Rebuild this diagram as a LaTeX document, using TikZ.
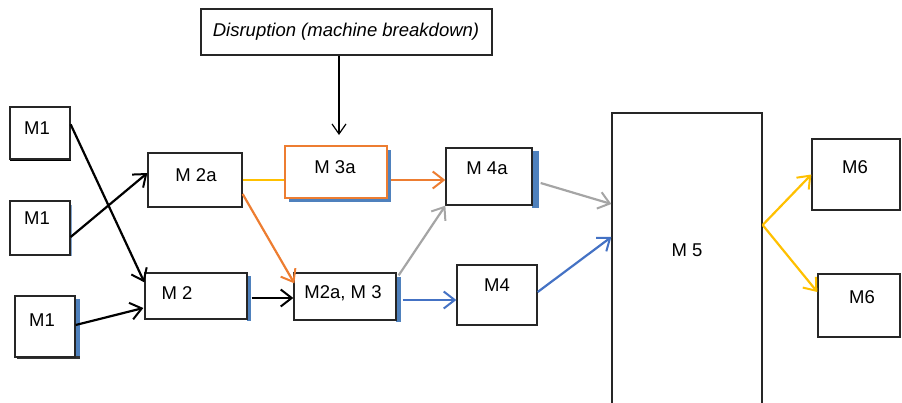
\documentclass[tikz,border=0pt]{standalone}
\usepackage{fontspec}
\setmainfont{Liberation Sans}
\usetikzlibrary{arrows.meta,calc}
\definecolor{cblue}{RGB}{68,114,196}
\definecolor{cshadow}{RGB}{79,129,189}
\definecolor{corange}{RGB}{237,125,49}
\definecolor{cyellow}{RGB}{255,192,0}
\definecolor{cgray}{RGB}{165,165,165}
\tikzset{
  box/.style={draw=black!85, line width=1.3pt, fill=white, inner sep=0pt, rectangle},
  lbl/.style={font=\fontsize{18.5}{20}\selectfont, inner sep=0pt, anchor=center},
  conn/.style={line width=2.2pt, -{Straight Barb[length=11pt,width=17pt,line width=2pt]}},
  shd/.style={fill=cshadow, draw=none},
}
\begin{document}
\begin{tikzpicture}[x=1pt,y=-1pt]
\useasboundingbox (0,0) rectangle (902,402);
% shadows (drawn first)
\fill[black] (10,157) rectangle (71,161);
\fill[cshadow!70] (70,205) rectangle (72,256);
\fill[shd] (75,299) rectangle (80,358);
\fill[black!80] (17,356) rectangle (80,359);
\fill[shd] (247,276) rectangle (251,321);
\fill[shd] (289,150) rectangle (391,202);
\fill[shd] (532,151) rectangle (539,208);
\fill[shd] (396,277) rectangle (401,322);
% boxes
\node[box, minimum width=60pt, minimum height=52pt] (m1a) at (40,133) {};
\node[box, minimum width=60pt, minimum height=54pt] (m1b) at (40,228) {};
\node[box, minimum width=60pt, minimum height=61pt] (m1c) at (45,326.5) {};
\node[box, minimum width=94pt, minimum height=54pt] (m2a) at (195,180) {};
\node[box, minimum width=102pt, minimum height=46pt] (m2) at (196,296) {};
\node[box, minimum width=291pt, minimum height=46pt] (dis) at (346.5,32) {};
\node[box, draw=corange, minimum width=102pt, minimum height=52pt] (m3a) at (336,172) {};
\node[box, minimum width=86pt, minimum height=57pt] (m4a) at (489,176.5) {};
\node[box, minimum width=102pt, minimum height=47pt] (m23) at (345,296.5) {};
\node[box, minimum width=80pt, minimum height=60pt] (m4) at (497,295) {};
\node[box, minimum width=150pt, minimum height=310pt] (m5) at (687,268) {};
\node[box, minimum width=88pt, minimum height=71pt] (m6a) at (856,174.5) {};
\node[box, minimum width=82pt, minimum height=63pt] (m6b) at (859,305.5) {};
% labels
\node[lbl] (m1a-t) at (37,128) {M1};
\node[lbl] (m1b-t) at (37,218) {M1};
\node[lbl] (m1c-t) at (42,320) {M1};
\node[lbl] (m2a-t) at (196,175) {M 2a};
\node[lbl] (m2-t) at (177,293) {M 2};
\node[lbl] (dis-t) at (346,32) {\itshape Disruption (machine breakdown)};
\node[lbl] (m3a-t) at (335,167) {M 3a};
\node[lbl] (m4a-t) at (487,168) {M 4a};
\node[lbl] (m23-t) at (343,293) {M2a, M 3};
\node[lbl] (m4-t) at (497,285) {M4};
\node[lbl] (m5-t) at (687,250) {M 5};
\node[lbl] (m6a-t) at (855,167) {M6};
\node[lbl] (m6b-t) at (862,297) {M6};
% connectors
\coordinate (hit) at (339,135);
\draw[line width=1.3pt, -{Straight Barb[length=10pt,width=14pt,line width=1.2pt]}] (dis.south -| hit) -- (hit);
\draw[conn] ($(m1a.north east)+(0,18)$) -- ($(m2.north west)+(0,10)$);
\draw[conn] ($(m1b.east)+(0,9)$) -- ($(m2a.west)+(0,-7)$);
\draw[conn] ($(m1c.east)+(0,-1.5)$) -- ($(m2.west)+(-1,12)$);
\draw[conn] ($(m2.east)+(4,2)$) -- ($(m23.west)+(0,1.5)$);
\draw[line width=2.2pt, cyellow] (m2a.east) -- (m3a.west |- m2a.east);
\draw[conn, corange] ($(m2a.east)+(0,14)$) -- ($(m23.north west)+(1,11)$);
\draw[conn, corange] ($(m3a.east)+(3,8)$) -- (m4a.west |- 0,180);
\draw[conn, cgray] ($(m23.north east)+(2,3)$) -- (m4a.south west);
\draw[conn, cblue] ($(m23.east)+(6,3.5)$) -- (m4.west |- 0,300);
\draw[conn, cgray] ($(m4a.east)+(8,6.5)$) -- (m5.west |- 0,204);
\draw[conn, cblue] ($(m4.east)+(0,-3)$) -- (m5.west |- 0,237);
\coordinate (split) at (m5.east |- 0,225);
\draw[conn, cyellow] (split) -- (m6a.west);
\draw[conn, cyellow] (split) -- ($(m6b.west)+(0,-13.5)$);
\end{tikzpicture}
\end{document}
